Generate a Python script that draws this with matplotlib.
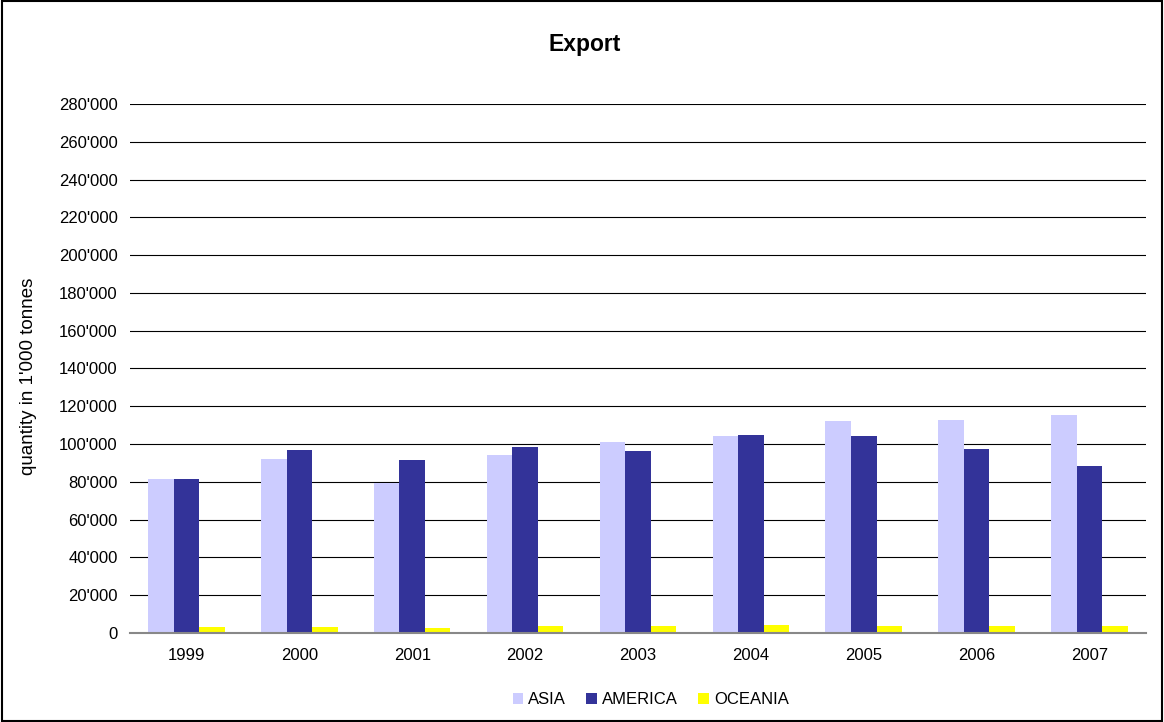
import matplotlib.pyplot as plt
import numpy as np
from matplotlib.patches import Rectangle
from matplotlib.ticker import FuncFormatter

plt.rcParams["font.family"] = ["Liberation Sans", "DejaVu Sans"]

years = ["1999", "2000", "2001", "2002", "2003", "2004", "2005", "2006", "2007"]
asia = [81400, 92000, 79400, 94100, 101000, 104200, 112200, 112700, 115400]
america = [81400, 96800, 91500, 98400, 96300, 104800, 104200, 97300, 88300]
oceania = [3350, 3350, 2800, 3900, 3900, 4400, 3900, 3900, 3900]

series = [("ASIA", asia, "#CCCCFF"),
          ("AMERICA", america, "#333399"),
          ("OCEANIA", oceania, "#FFFF00")]

fig = plt.figure(figsize=(11.64, 7.22), dpi=100)
ax = fig.add_axes([0.1117, 0.1233, 0.8728, 0.7327])

x = np.arange(len(years))
w = 0.226
for i, (name, vals, col) in enumerate(series):
    ax.bar(x + (i - 1) * w, vals, w, color=col, label=name, zorder=3)

ax.set_xlim(-0.5, len(years) - 0.5)
ax.set_ylim(0, 280000)
ax.set_yticks(np.arange(0, 280001, 20000))
ax.yaxis.set_major_formatter(FuncFormatter(lambda v, p: f"{int(v):,}".replace(",", "'")))
ax.set_xticks(x)
ax.set_xticklabels(years)
ax.tick_params(length=0, labelsize=12)
ax.tick_params(axis="y", pad=9)
ax.tick_params(axis="x", pad=11)

ax.grid(axis="y", color="black", linewidth=0.8, zorder=0)
for s in ["top", "right", "left"]:
    ax.spines[s].set_visible(False)
ax.spines["bottom"].set_color("#888888")
ax.spines["bottom"].set_linewidth(1.5)
ax.spines["bottom"].set_zorder(4)

ax.set_ylabel("quantity in 1'000 tonnes", fontsize=13.5)
ax.yaxis.set_label_coords(-0.0915, 0.486)

fig.text(0.502, 0.939, "Export", ha="center", va="center", fontsize=16.5, fontweight="bold")

fig.legend(loc="center", bbox_to_anchor=(0.559, 0.0305), ncol=3, frameon=False,
           fontsize=12, handlelength=0.65, handleheight=0.65, handletextpad=0.3,
           columnspacing=1.2)

# рамка вокруг всего рисунка
fig.patches.append(Rectangle((0.002, 0.002), 0.996, 0.996, transform=fig.transFigure,
                             fill=False, edgecolor="black", linewidth=1.5))

fig.savefig("out.png", dpi=100)
plt.close(fig)
